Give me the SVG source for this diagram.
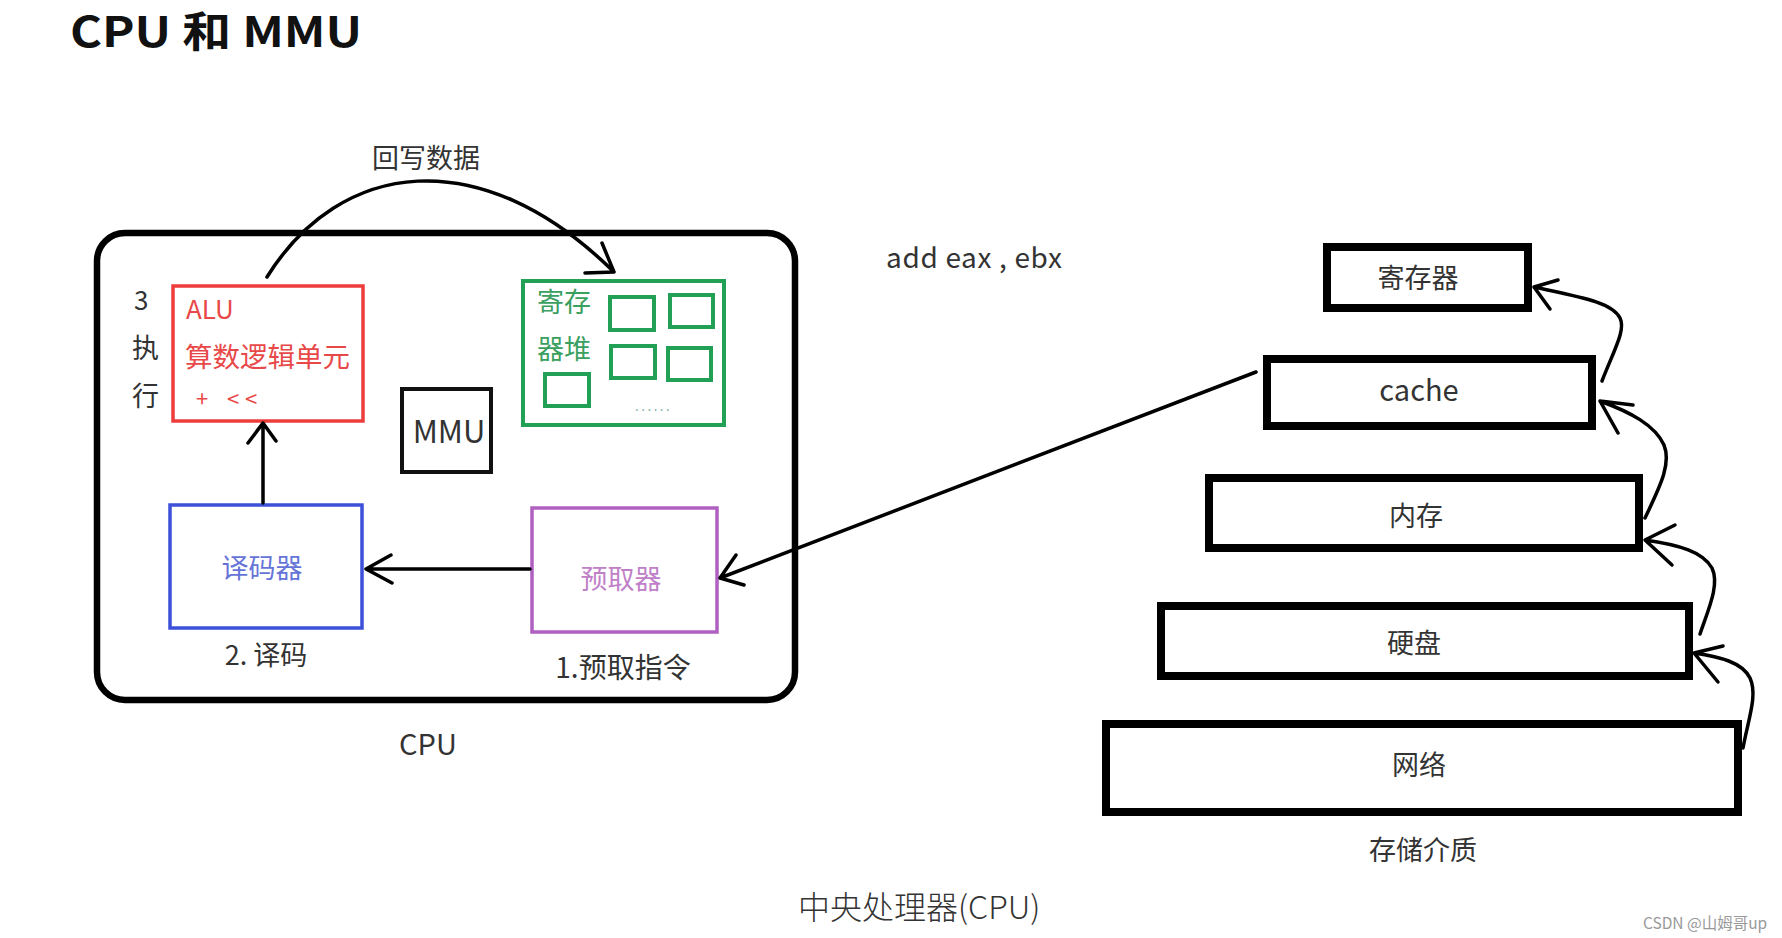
<svg xmlns="http://www.w3.org/2000/svg" width="1782" height="938" viewBox="0 0 1782 938">
<defs>
<style>
text{font-family:"Noto Sans CJK SC","Noto Sans",sans-serif;fill:#333;font-size:27px}
.c{text-anchor:middle}
.line{fill:none;stroke:#000;stroke-width:3.5;stroke-linecap:round;stroke-linejoin:round}
.stk{fill:none;stroke:#000;stroke-width:8}
.red{fill:#e84848}
.grn{fill:#3aa060}
.blu{fill:#6674d8}
.pur{fill:#c080c8}
</style>
</defs>
<rect width="1782" height="938" fill="#fff"/>
<text x="70" y="47" style="font-size:42px;font-weight:bold;fill:#111" textLength="292" lengthAdjust="spacingAndGlyphs">CPU 和 MMU</text>

<g id="cpu">
<rect x="97" y="233" width="698" height="467" rx="28" fill="none" stroke="#000" stroke-width="6.5"/>
<text class="c" x="428" y="755" style="font-size:29px">CPU</text>
</g>

<g id="alu">
<rect x="173" y="286" width="190" height="135" fill="none" stroke="#ee3c3c" stroke-width="3.5"/>
<text class="red" x="186" y="319" style="font-size:26px">ALU</text>
<text class="red" x="185" y="367" style="font-size:27.5px">算数逻辑单元</text>
<text class="red" x="196" y="407" style="font-size:22px">+</text>
<text class="red" x="227" y="407" style="font-size:22px">&lt;</text>
<text class="red" x="245" y="407" style="font-size:22px">&lt;</text>
<text x="134" y="310" style="font-size:26px">3</text>
<text x="132" y="358">执</text>
<text x="132" y="406">行</text>
</g>

<g id="registers">
<rect x="523" y="281" width="201" height="144" fill="none" stroke="#22a055" stroke-width="4"/>
<text class="grn" x="537" y="312">寄存</text>
<text class="grn" x="537" y="359">器堆</text>
<g fill="none" stroke="#22a055" stroke-width="4">
<rect x="610" y="297" width="44" height="33"/>
<rect x="670" y="295" width="43" height="32"/>
<rect x="611" y="346" width="44" height="32"/>
<rect x="668" y="348" width="43" height="32"/>
<rect x="545" y="374" width="44" height="32"/>
</g>
<text x="635" y="411" style="font-size:13px;fill:#6a9;letter-spacing:2.6px">......</text>
</g>

<g id="mmu">
<rect x="402" y="389" width="89" height="83" fill="none" stroke="#111" stroke-width="4"/>
<text class="c" x="449" y="443" style="font-size:31px">MMU</text>
</g>

<g id="decoder">
<rect x="170" y="505" width="192" height="123" fill="none" stroke="#3c50d8" stroke-width="3.5"/>
<text class="c blu" x="262" y="578">译码器</text>
<text class="c" x="266" y="665">2. 译码</text>
</g>

<g id="prefetch">
<rect x="532" y="508" width="185" height="124" fill="none" stroke="#b060c0" stroke-width="3.5"/>
<text class="c pur" x="621" y="589">预取器</text>
<text class="c" x="623" y="678" style="font-size:28px">1.预取指令</text>
</g>

<g id="storage">
<g id="n-reg"><rect class="stk" x="1327" y="247" width="201" height="61"/><text class="c" x="1418" y="288">寄存器</text></g>
<g id="n-cache"><rect class="stk" x="1267" y="359" width="325" height="67"/><text class="c" x="1419" y="401" style="font-size:29px">cache</text></g>
<g id="n-mem"><rect class="stk" x="1209" y="478" width="430" height="70"/><text class="c" x="1416" y="526">内存</text></g>
<g id="n-disk"><rect class="stk" x="1161" y="606" width="528" height="70"/><text class="c" x="1414" y="653">硬盘</text></g>
<g id="n-net"><rect class="stk" x="1106" y="724" width="632" height="88"/><text class="c" x="1419" y="775">网络</text></g>
<text class="c" x="1423" y="860">存储介质</text>
</g>

<g id="texts">
<text x="372" y="168">回写数据</text>
<text x="886" y="268" style="font-size:28px" textLength="176">add eax , ebx</text>
<text x="798" y="919" style="font-size:32px;font-weight:300">中央处理器(CPU)</text>
<text x="1643" y="929" style="font-size:15.5px;fill:#999">CSDN @山姆哥up</text>
</g>

<g id="connectors">
<path class="line" d="M263 503 L263 424 M248 443 L263 423 L276 441"/>
<path class="line" d="M530 569 L366 569 M391 555 L366 569 L392 583"/>
<path class="line" d="M1256 372 L720 578 M736 555 L720 578 L744 585"/>
<path class="line" d="M267 277 C340 160 480 140 614 272 M602 243 L614 272 L585 273"/>
<path class="line" d="M1602 381 C1614 350 1626 330 1620 318 C1612 302 1580 297 1534 287 M1558 280 L1534 287 L1550 309"/>
<path class="line" d="M1645 518 C1658 490 1672 465 1664 445 C1655 425 1630 412 1600 401 M1633 405 L1600 401 L1618 433"/>
<path class="line" d="M1700 634 C1708 610 1720 585 1712 568 C1703 552 1680 545 1645 540 M1675 525 L1645 540 L1672 565"/>
<path class="line" d="M1743 748 C1748 720 1758 695 1750 678 C1742 662 1720 657 1694 653 M1723 646 L1694 653 L1718 682"/>
</g>
</svg>
